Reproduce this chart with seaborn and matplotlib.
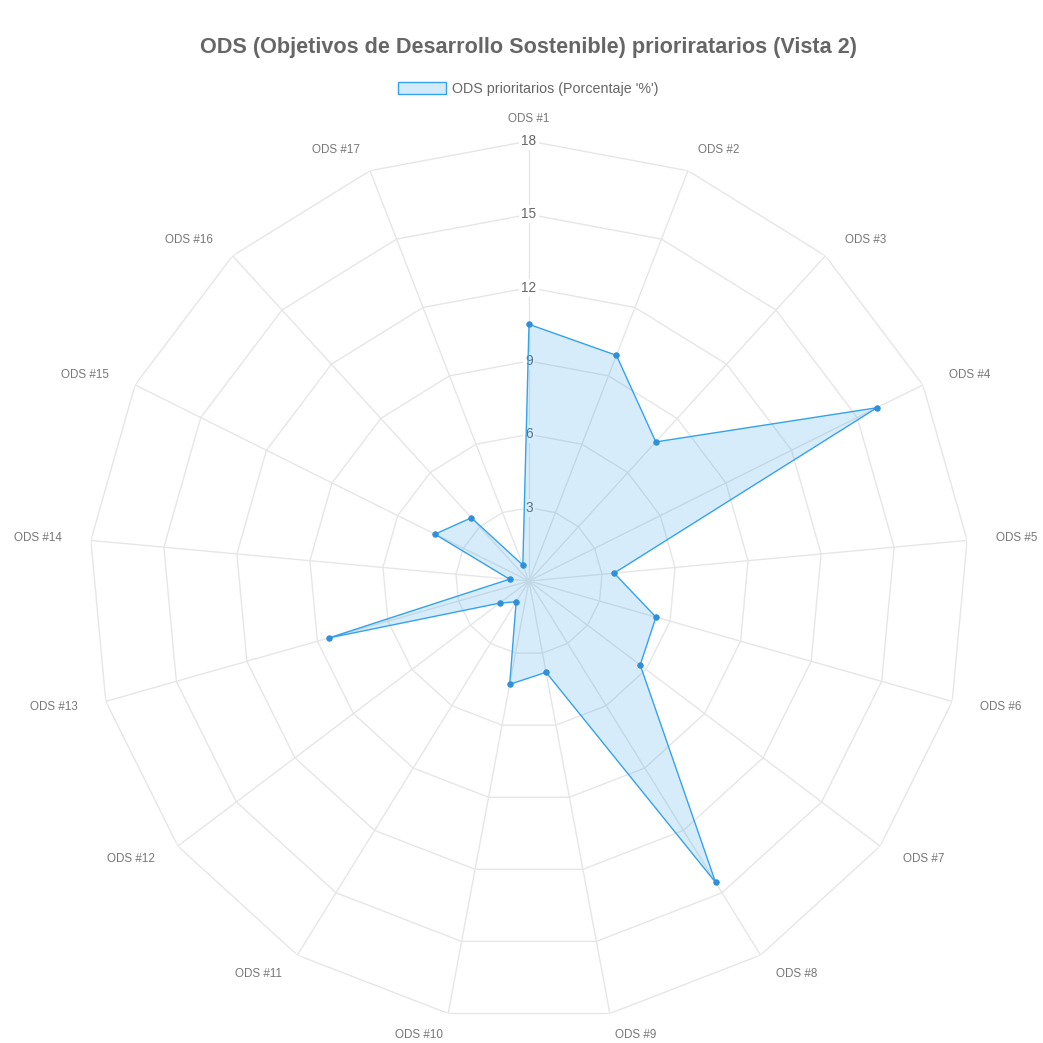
import numpy as np
import matplotlib
matplotlib.use("Agg")
import matplotlib.pyplot as plt
from matplotlib.patches import Patch
import seaborn as sns

# ODS priority shares (percent) for each of the 17 goals
categories = [f"ODS #{i}" for i in range(1, 18)]
values = [10.5, 9.9, 7.7, 15.9, 3.5, 5.4, 5.7, 14.5, 3.8, 4.3, 1.0, 1.5, 8.5, 0.8, 4.3, 3.5, 0.7]
tick_values = [3, 6, 9, 12, 15, 18]
tick_labels = ["3", "6", "9", "12", "15", "18"]
r_max = 18

title = "ODS (Objetivos de Desarrollo Sostenible) prioriratarios (Vista 2)"
series_name = "ODS prioritarios (Porcentaje '%')"

sns.set_theme(style="white")
plt.rcParams["font.family"] = ["Liberation Sans", "DejaVu Sans"]

line_color = "#36a2eb"
fill_color = (54 / 255, 162 / 255, 235 / 255, 0.2)
grid_color = "#e6e6e6"
text_color = "#666666"
label_color = "#777777"

W = H = 1043
dpi = 100
fig = plt.figure(figsize=(W / dpi, H / dpi), dpi=dpi)
fig.patch.set_facecolor("white")

cx, cy, rad = 529, 581, 440
ax = fig.add_axes([(cx - rad) / W, (H - cy - rad) / H, 2 * rad / W, 2 * rad / H],
                  projection="polar")
ax.set_theta_zero_location("N")
ax.set_theta_direction(-1)
ax.set_ylim(0, r_max)
ax.grid(False)
ax.set_xticks([])
ax.set_yticks([])
ax.spines["polar"].set_visible(False)
ax.set_facecolor("white")

n = len(categories)
theta = np.linspace(0, 2 * np.pi, n, endpoint=False)
theta_closed = np.append(theta, theta[0])

# polygonal grid rings and spokes
for lvl in tick_values:
    ax.plot(theta_closed, [lvl] * (n + 1), color=grid_color, lw=1.0, zorder=1)
for t in theta:
    ax.plot([t, t], [0, r_max], color=grid_color, lw=1.0, zorder=1)

# radial tick labels on the first spoke
for lvl, lab in zip(tick_values, tick_labels):
    ax.text(0, lvl, lab, ha="center", va="center", fontsize=9.8, color=text_color,
            zorder=2, bbox=dict(boxstyle="square,pad=0.15", fc="white", ec="none"))

# spoke labels
for t, lab in zip(theta, categories):
    s, c = np.sin(t), np.cos(t)
    if abs(s) < 0.01:
        ha = "center"
    elif s > 0:
        ha = "left"
    else:
        ha = "right"
    ax.annotate(lab, xy=(t, r_max), xytext=(29 * s, 22 * c), textcoords="offset pixels",
                ha=ha, va="center", fontsize=8.4, color=label_color, annotation_clip=False)

# data polygon
vals_closed = np.append(values, values[0])
ax.fill(theta_closed, vals_closed, color=fill_color, lw=0, zorder=3)
sns.lineplot(x=theta_closed, y=vals_closed, sort=False, estimator=None, ax=ax,
             color=line_color, lw=1.0, zorder=4)
sns.scatterplot(x=theta, y=values, ax=ax, color="#2f8fd8", edgecolor="#2f8fd8",
                s=16, linewidth=0.6, zorder=5)
ax.set_xlabel("")
ax.set_ylabel("")
ax.set_ylim(0, r_max)

# title and legend
fig.text(cx / W, 1 - 47 / H, title, ha="center", va="center", fontsize=15.6,
         fontweight="bold", color=text_color)
handle = Patch(facecolor=(54 / 255, 162 / 255, 235 / 255, 0.22), edgecolor=line_color, lw=1.0)
leg = fig.legend([handle], [series_name], loc="center", bbox_to_anchor=(528 / W, 1 - 89 / H),
                 frameon=False, fontsize=10.3, handlelength=3.4, handleheight=0.95,
                 handletextpad=0.4, labelcolor=text_color)

fig.savefig("out.png", dpi=dpi, facecolor="white")
